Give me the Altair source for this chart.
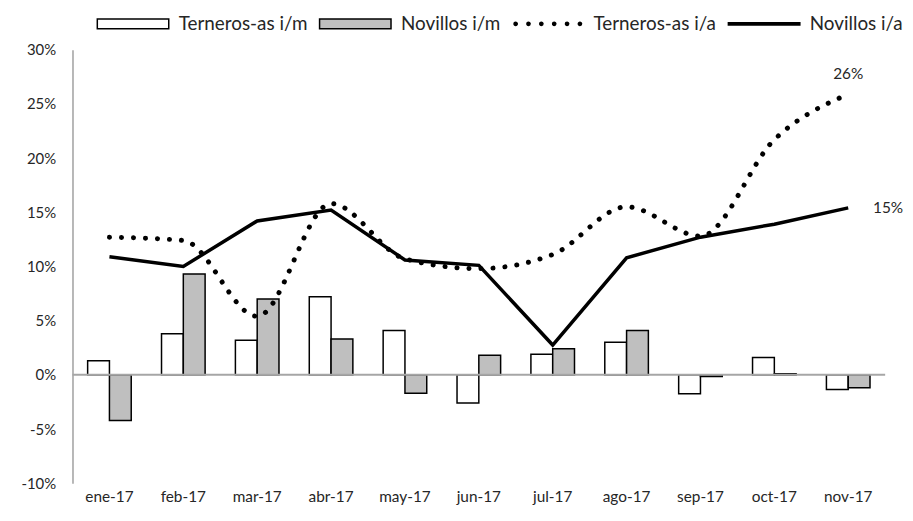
import altair as alt
import pandas as pd

meses = ["ene-17", "feb-17", "mar-17", "abr-17", "may-17", "jun-17",
         "jul-17", "ago-17", "sep-17", "oct-17", "nov-17"]
terneros_im = [1.3, 3.8, 3.2, 7.2, 4.1, -2.6, 1.9, 3.0, -1.75, 1.6, -1.35]
novillos_im = [-4.2, 9.3, 7.0, 3.3, -1.7, 1.8, 2.4, 4.1, -0.15, 0.1, -1.2]
terneros_ia = [12.7, 12.4, 5.4, 15.8, 10.7, 9.8, 11.1, 15.5, 12.8, 21.7, 25.9]
novillos_ia = [10.9, 10.0, 14.2, 15.2, 10.6, 10.1, 2.75, 10.8, 12.7, 13.9, 15.4]
series = ["Terneros-as i/m", "Novillos i/m", "Terneros-as i/a", "Novillos i/a"]

FONT = "Lato"

rows = []
for name, vals in zip(series, [terneros_im, novillos_im, terneros_ia, novillos_ia]):
    for m, v in zip(meses, vals):
        rows.append({"mes": m, "serie": name, "valor": v})
df = pd.DataFrame(rows)
legend_df = pd.DataFrame({"serie": series})

# legend symbol paths (unit square -1..1)
box = "M-1,-0.139L1,-0.139L1,0.139L-1,0.139Z"
r = 0.045
dots = "".join(
    f"M{x - r:.3f},0a{r},{r} 0 1,0 {2 * r},0a{r},{r} 0 1,0 {-2 * r},0"
    for x in [-0.9, -0.54, -0.18, 0.18, 0.54, 0.9]
)
line = "M-1,-0.03L1,-0.03L1,0.03L-1,0.03Z"

fill_scale = alt.Scale(domain=series, range=["white", "#bfbfbf", "black", "black"])
shape_scale = alt.Scale(domain=series, range=[box, box, dots, line])
stroke_scale = alt.Scale(domain=series, range=["black", "black", "black", "black"])

x_enc = alt.X("mes:N", sort=meses,
              scale=alt.Scale(paddingInner=0.41, paddingOuter=0.205),
              axis=alt.Axis(title=None, labelAngle=0, domain=False, ticks=False,
                            labelFontSize=15.5, labelFont=FONT, labelColor="#262626",
                            labelPadding=6))
y_enc = alt.Y("valor:Q", scale=alt.Scale(domain=[-10, 30], nice=False),
              axis=alt.Axis(title=None, values=list(range(-10, 35, 5)),
                            labelExpr="datum.value + '%'", grid=False, ticks=False,
                            domainColor="#a0a0a0", domainWidth=1.5,
                            labelFontSize=15, labelFont=FONT, labelColor="#262626",
                            labelPadding=17))

base = alt.Chart(df)

bars = base.transform_filter(
    alt.FieldOneOfPredicate(field="serie", oneOf=series[:2])
).mark_bar(stroke="black", strokeWidth=1.5).encode(
    x=x_enc,
    y=y_enc,
    xOffset=alt.XOffset("serie:N", sort=series[:2],
                        scale=alt.Scale(paddingInner=0, paddingOuter=0)),
    fill=alt.Fill("serie:N", scale=fill_scale, legend=None),
)

zero = alt.Chart(pd.DataFrame({"v": [0]})).mark_rule(
    color="#a6a6a6", strokeWidth=2
).encode(y=alt.Y("v:Q"))

dotted = base.transform_filter(
    alt.datum.serie == series[2]
).mark_line(color="black", strokeWidth=5, strokeDash=[0.1, 12],
            strokeCap="round", interpolate="monotone").encode(
    x=x_enc, y=y_enc
)

solid = base.transform_filter(
    alt.datum.serie == series[3]
).mark_line(color="black", strokeWidth=3.5).encode(x=x_enc, y=y_enc)

lab_base = base.transform_filter(
    (alt.datum.mes == "nov-17")
).transform_calculate(
    lab="format(round(datum.valor), 'd') + '%'"
)
lab26 = lab_base.transform_filter(alt.datum.serie == series[2]).mark_text(
    dy=-20, fontSize=15.5, font=FONT, color="#262626"
).encode(x=x_enc, y=y_enc, text="lab:N")
lab15 = lab_base.transform_filter(alt.datum.serie == series[3]).mark_text(
    dx=25, align="left", fontSize=15.5, font=FONT, color="#262626"
).encode(x=x_enc, y=y_enc, text="lab:N")

legend = alt.Legend(orient="none", legendX=24, legendY=-63, direction="horizontal",
                    title=None, symbolSize=5184, labelFontSize=19, labelFont=FONT,
                    labelColor="#262626", labelOffset=9, columnPadding=9,
                    symbolStrokeColor="black", symbolStrokeWidth=1.5,
                    symbolOpacity=1, columns=4)

leg = alt.Chart(legend_df).mark_point(opacity=0, filled=True, strokeWidth=1.5).encode(
    shape=alt.Shape("serie:N", scale=shape_scale, legend=legend),
    fill=alt.Fill("serie:N", scale=fill_scale, legend=legend),
    stroke=alt.Stroke("serie:N", scale=stroke_scale, legend=legend),
)

chart = alt.layer(bars, zero, dotted, solid, lab26, lab15, leg).resolve_legend(
    fill="independent", shape="independent", stroke="independent"
).properties(
    width=819, height=437,
    autosize=alt.AutoSizeParams(type="none"),
    padding={"left": 65, "top": 40, "right": 20, "bottom": 28},
).configure_view(stroke=None)

chart.save("out.html", embed_options={"renderer": "svg", "actions": False})
